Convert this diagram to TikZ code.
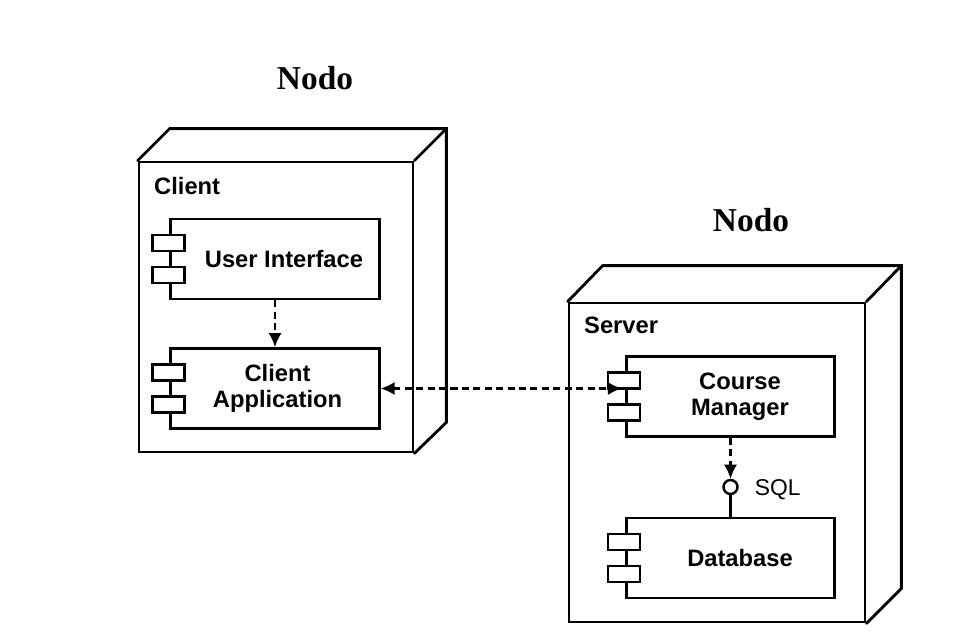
\documentclass[tikz,border=0pt]{standalone}
\usepackage{fontspec}
\setmainfont{Liberation Sans}
\newfontfamily\nodofont{Liberation Serif}
\usetikzlibrary{calc,positioning,arrows.meta}
\colorlet{box edge}{black}
\colorlet{box area}{white}
\tikzset{outline/.style={draw=box edge, line width=1.6pt, line cap=round},
	nodebox/.style={outline, fill=box area, inner sep=0pt},
	comp/.style={draw=box edge, fill=box area, line width=1.5pt, minimum width=4.17cm, minimum height=1.6cm, inner sep=0pt},
	tab/.style={draw=box edge, fill=box area, line width=1.4pt},
	comptext/.style={font=\bfseries\fontsize{13.5}{15}\selectfont, align=center},
	nodetitle/.style={font=\nodofont\bfseries\fontsize{19}{21}\selectfont},
	dep/.style={draw=box edge, line width=1.4pt, dash pattern=on 4pt off 2.5pt, -{Latex[length=8pt,width=7.5pt]}},
	iface/.style={circle, draw=box edge, line width=1.4pt, fill=box area, minimum size=0.28cm, inner sep=0pt}}
\def\comptabs#1{\draw[tab] ($(#1.west)+(-17,-24)$) rectangle ++(32,16);
	\draw[tab] ($(#1.west)+(-17,8)$) rectangle ++(32,16);}

\begin{document}
\begin{tikzpicture}[x=0.02cm, y=-0.02cm]
 \useasboundingbox (0,0) rectangle (953,634);

 \node[nodetitle] (nodo1) at (315,78) {Nodo};
 \node[nodetitle] (nodo2) at (751,220) {Nodo};

 % client
 \node[nodebox, minimum width=5.48cm, minimum height=5.8cm] (client) at (276,307) {};
 \draw[outline] (client.north west) -- ++(32,-32) -| ($(client.south east)+(32,-31)$) -- (client.south east);
 \draw[outline] (client.north east) -- ++(32,-32);
 \node[comptext, anchor=west] (clientlbl) at (148,186) {Client};

 \node[comp] (ui) at (275,259) {};
 \node[comptext, xshift=0.18cm] (uitext) at (ui) {User Interface};
 \comptabs{ui}
 \node[comp] (ca) at (275,388.5) {};
 \node[comptext, xshift=0.05cm] (catext) at (ca) {Client\\Application};
 \comptabs{ca}

 % server
 \node[nodebox, minimum width=5.92cm, minimum height=6.38cm] (server) at (717,462.5) {};
 \draw[outline] (server.north west) -- ++(35,-36) -| ($(server.south east)+(35,-35)$) -- (server.south east);
 \draw[outline] (server.north east) -- ++(35,-36);
 \node[comptext, anchor=west] (serverlbl) at (578,325) {Server};

 \node[comp] (cm) at (730.5,396.5) {};
 \node[comptext, xshift=0.19cm] (cmtext) at (cm) {Course\\Manager};
 \comptabs{cm}
 \node[comp] (db) at (730.5,558) {};
 \node[comptext, xshift=0.19cm] (dbtext) at (db) {Database};
 \comptabs{db}

 \node[iface] (sql) at (730.5,487) {};
 \node[font=\fontsize{13}{15}\selectfont, right=0.2cm of sql, yshift=-1.5pt] (sqllbl) {SQL};
 \coordinate (cmin) at ($(cm.west)+(-3,-8.5)$);

 \draw[dep] (ui.south) -- (ca.north);
 \draw[dep, {Latex[length=8pt,width=7.5pt]}-{Latex[length=8pt,width=7.5pt]}] (ca.east) -- (ca.east -| cmin);
 \draw[dep] (cm.south) -- (sql.north);
 \draw[line width=1.4pt] (sql.south) -- (db.north);

\end{tikzpicture}
\end{document}
